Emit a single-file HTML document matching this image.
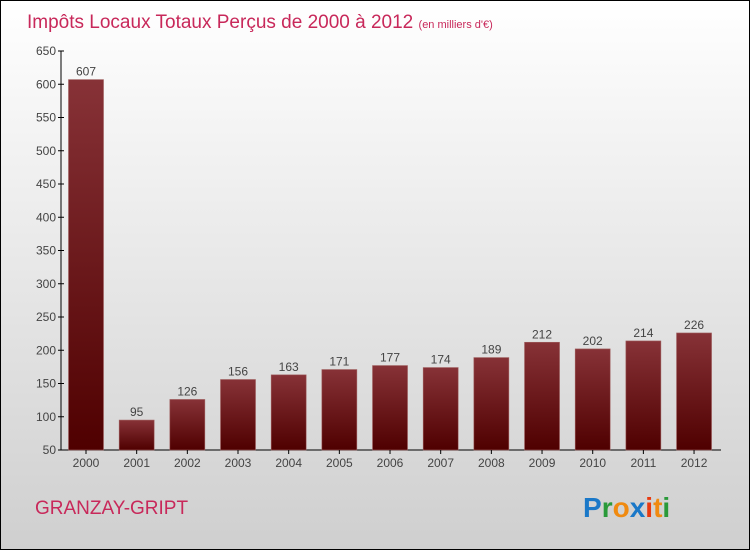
<!DOCTYPE html>
<html><head><meta charset="utf-8"><style>
body{margin:0;}
#c{width:748px;height:548px;border:1px solid #000;background:linear-gradient(#ffffff,#cfcfcf);position:relative;font-family:"Liberation Sans",sans-serif;}
</style></head><body>
<div id="c">
<svg width="748" height="548" id="s">
<defs><linearGradient id="g" x1="0" y1="0" x2="0" y2="1"><stop offset="0" stop-color="#873237"/><stop offset="1" stop-color="#4f0000"/></linearGradient></defs>
<text x="26" y="27" font-size="19" fill="#c8285a">Impôts Locaux Totaux Perçus de 2000 à 2012 <tspan font-size="11">(en milliers d'€)</tspan></text>
<text x="34" y="513" font-size="19" fill="#c8285a">GRANZAY-GRIPT</text>
<text x="582" y="516" font-size="28" font-weight="bold"><tspan fill="#1a78c8">P</tspan><tspan fill="#2a9a3a">r</tspan><tspan fill="#f08a10">o</tspan><tspan fill="#1a78c8">x</tspan><tspan fill="#e83a10">i</tspan><tspan fill="#f08a10">t</tspan><tspan fill="#2a9a3a">i</tspan></text>
<g id="plot"></g>
</svg></div>
<script>
const years=["2000","2001","2002","2003","2004","2005","2006","2007","2008","2009","2010","2011","2012"];
const values=[607,95,126,156,163,171,177,174,189,212,202,214,226];
const ticks=[50,100,150,200,250,300,350,400,450,500,550,600,650];
const NS="http://www.w3.org/2000/svg",g=document.getElementById('plot');
const y=v=>449-(v-50)*(399/600), x=i=>85+i*50.67;
function el(t,a,txt){const e=document.createElementNS(NS,t);for(const k in a)e.setAttribute(k,a[k]);if(txt!=null)e.textContent=txt;g.appendChild(e);return e;}
let ax=el('line',{x1:60,y1:y(650),x2:60,y2:449,stroke:'#000'});


let bx=el('line',{x1:60,y1:449,x2:720,y2:449,stroke:'#000'});


ticks.forEach(t=>{
 el('line',{x1:57,y1:y(t),x2:63,y2:y(t),stroke:'#000'});
 let l=el('text',{x:55,y:y(t)+4,'font-size':12,'text-anchor':'end',fill:'#444'},t);
 
 
});
values.forEach((v,i)=>{
 let r=el('rect',{x:x(i)-17.5,y:y(v),width:35,height:449-y(v),fill:'url(#g)',stroke:'#a06060','stroke-width':0.6});
 
 
 let l=el('text',{x:x(i),y:y(v)-4,'font-size':12,'text-anchor':'middle',fill:'#444'},v);
 
 
 el('line',{x1:x(i),y1:449,x2:x(i),y2:453,stroke:'#000'});
 let yl=el('text',{x:x(i),y:466,'font-size':12,'text-anchor':'middle',fill:'#444'},years[i]);
 
 
});
</script>
</body></html>
